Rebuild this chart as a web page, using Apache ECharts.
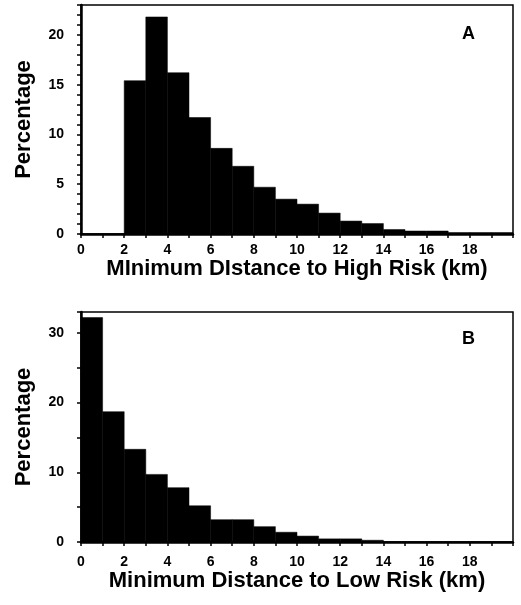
<!DOCTYPE html>
<html>
<head>
<meta charset="utf-8">
<script src="https://cdn.jsdelivr.net/npm/echarts@6/dist/echarts.min.js"></script>
<style>
html,body{margin:0;padding:0;background:#fff;}
#chart{width:521px;height:605px;}
</style>
</head>
<body>
<div id="chart"></div>
<script>
// Bin edges (km) — each bin spans [binStart, binStart+1)
const binStarts = [0,1,2,3,4,5,6,7,8,9,10,11,12,13,14,15,16,17,18,19];
// Panel A: Minimum distance to High Risk (percentage)
const valuesA = [0,0,15.4,21.8,16.2,11.7,8.6,6.8,4.7,3.5,3.0,2.1,1.3,1.05,0.45,0.3,0.3,0.15,0.15,0.15];
// Panel B: Minimum distance to Low Risk (percentage)
const valuesB = [32.2,18.7,13.3,9.7,7.8,5.2,3.2,3.2,2.2,1.4,0.85,0.45,0.45,0.25,0,0,0,0,0,0];
const xTickLabels = [0,2,4,6,8,10,12,14,16,18];
const xNameA = 'MInimum DIstance to High Risk (km)';
const xNameB = 'Minimum Distance to Low Risk (km)';
const yName = 'Percentage';
const panelLabels = ['A','B'];

const FONT = "'Liberation Sans', Arial, Helvetica, sans-serif";
const chart = echarts.init(document.getElementById('chart'), null, {renderer:'canvas'});

function toData(vals){ return binStarts.map((s,i)=>[s, s+1, vals[i]]); }

function renderItem(params, api){
  const x0 = api.value(0), x1 = api.value(1), v = api.value(2);
  const p0 = api.coord([x0, v]);
  const p1 = api.coord([x1, 0]);
  return {type:'rect', shape:{x:p0[0], y:p0[1], width:p1[0]-p0[0], height:p1[1]-p0[1]},
          style:{fill:'#000', stroke:'#000', lineWidth:0.5}};
}

function xAxis(gridIndex, name, labelMargin, nameGap){
  return {
    type:'value', gridIndex, min:0, max:20, interval:1,
    name, nameLocation:'middle', nameGap,
    nameTextStyle:{fontFamily:FONT, fontWeight:'bold', fontSize:22, color:'#000'},
    axisLine:{show:true, onZero:false, lineStyle:{color:'#000', width:2.5}},
    axisTick:{show:true, inside:false, length:4, lineStyle:{color:'#000', width:1.5}},
    axisLabel:{margin:labelMargin, fontFamily:FONT, fontWeight:'bold', fontSize:14, color:'#000',
      formatter:v => xTickLabels.indexOf(v) >= 0 ? String(v) : ''},
    splitLine:{show:false}
  };
}
function yAxis(gridIndex, max, interval, labelEvery){
  return {
    type:'value', gridIndex, min:0, max, interval,
    name:yName, nameLocation:'middle', nameGap:46, nameRotate:90,
    nameTextStyle:{fontFamily:FONT, fontWeight:'bold', fontSize:22, color:'#000'},
    axisLine:{show:true, lineStyle:{color:'#000', width:2.5}},
    axisTick:{show:true, inside:false, length:4, lineStyle:{color:'#000', width:1.5}},
    axisLabel:{margin:17, fontFamily:FONT, fontWeight:'bold', fontSize:14, color:'#000',
      formatter:v => (v % labelEvery === 0) ? String(v) : ''},
    splitLine:{show:false}
  };
}

const option = {
  backgroundColor:'#fff',
  animation:false,
  grid:[
    {left:81, right:8, top:5, height:229, show:true, borderColor:'#000', borderWidth:1.5, backgroundColor:'transparent'},
    {left:81, right:8, top:312, height:230, show:true, borderColor:'#000', borderWidth:1.5, backgroundColor:'transparent'}
  ],
  xAxis:[ xAxis(0, xNameA, 9, 23), xAxis(1, xNameB, 13, 25) ],
  yAxis:[ yAxis(0, 23, 1, 5), yAxis(1, 33, 5, 10) ],
  graphic:[
    {type:'text', left:462, top:25, style:{text:panelLabels[0], font:"bold 18px "+FONT, fill:'#000'}},
    {type:'text', left:462, top:330, style:{text:panelLabels[1], font:"bold 18px "+FONT, fill:'#000'}}
  ],
  series:[
    {type:'custom', xAxisIndex:0, yAxisIndex:0, renderItem, encode:{x:[0,1], y:2}, data:toData(valuesA), z:1},
    {type:'custom', xAxisIndex:1, yAxisIndex:1, renderItem, encode:{x:[0,1], y:2}, data:toData(valuesB), z:1}
  ]
};
chart.setOption(option);
</script>
</body>
</html>
